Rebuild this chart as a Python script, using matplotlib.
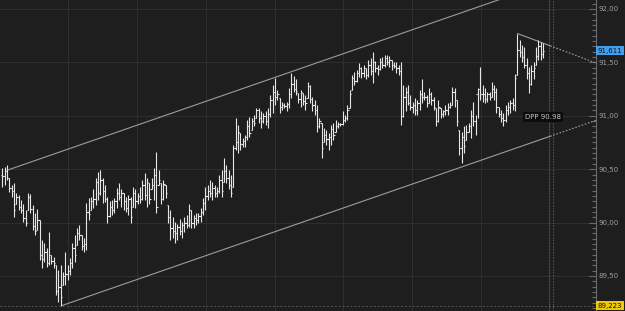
import numpy as np
import matplotlib.pyplot as plt
from matplotlib.ticker import MultipleLocator, FuncFormatter
from matplotlib.transforms import blended_transform_factory

# bar data (one bar per session)
highs = [
    90.51, 90.52, 90.54, 90.42, 90.35, 90.37, 90.28, 90.26, 90.21, 90.17,
    90.12, 90.28, 90.27, 90.16, 90.09, 90.13, 90.02, 89.84, 89.81, 89.76,
    89.91, 89.70, 89.68, 89.60, 89.56, 89.60, 89.54, 89.72, 89.60, 89.67,
    89.81, 89.88, 89.95, 89.98, 89.88, 89.86, 90.18, 90.23, 90.24, 90.31,
    90.42, 90.47, 90.49, 90.42, 90.35, 90.24, 90.20, 90.21, 90.23, 90.32,
    90.37, 90.31, 90.28, 90.24, 90.26, 90.24, 90.33, 90.31, 90.28, 90.33,
    90.40, 90.46, 90.42, 90.37, 90.42, 90.51, 90.66, 90.49, 90.37, 90.40,
    90.35, 90.16, 90.12, 90.05, 90.01, 89.99, 90.03, 90.01, 90.05, 90.07,
    90.17, 90.12, 90.07, 90.09, 90.09, 90.14, 90.23, 90.33, 90.35, 90.40,
    90.38, 90.35, 90.33, 90.45, 90.49, 90.60, 90.54, 90.49, 90.45, 90.73,
    90.98, 90.91, 90.84, 90.79, 90.82, 90.96, 90.99, 90.98, 91.01, 91.07,
    91.07, 91.04, 91.03, 91.04, 91.07, 91.19, 91.29, 91.35, 91.24, 91.17,
    91.13, 91.12, 91.13, 91.26, 91.40, 91.37, 91.34, 91.21, 91.24, 91.21,
    91.19, 91.32, 91.29, 91.18, 91.15, 91.10, 90.98, 90.93, 90.89, 90.87,
    90.84, 90.91, 90.93, 90.96, 90.94, 90.93, 91.04, 91.01, 91.10, 91.24,
    91.38, 91.41, 91.43, 91.49, 91.46, 91.48, 91.45, 91.52, 91.54, 91.60,
    91.51, 91.48, 91.54, 91.55, 91.57, 91.57, 91.56, 91.52, 91.50, 91.50,
    91.48, 91.50, 91.29, 91.27, 91.29, 91.19, 91.13, 91.17, 91.15, 91.24,
    91.34, 91.22, 91.19, 91.26, 91.22, 91.18, 91.07, 91.15, 91.07, 91.05,
    91.10, 91.12, 91.13, 91.27, 91.26, 91.15, 90.87, 90.85, 90.90, 90.91,
    90.93, 91.05, 91.13, 91.01, 91.26, 91.46, 91.29, 91.26, 91.22, 91.22,
    91.32, 91.29, 91.26, 91.08, 91.05, 91.03, 91.10, 91.13, 91.15, 91.17,
    91.39, 91.77, 91.71, 91.66, 91.64, 91.54, 91.46, 91.48, 91.50, 91.64,
    91.71, 91.69, 91.68,
]
lows = [
    90.33, 90.35, 90.40, 90.29, 90.24, 90.05, 90.17, 90.12, 90.09, 90.01,
    89.97, 90.12, 90.09, 89.93, 89.88, 89.93, 89.65, 89.57, 89.63, 89.58,
    89.60, 89.61, 89.57, 89.32, 89.26, 89.223, 89.42, 89.42, 89.46, 89.51,
    89.57, 89.63, 89.79, 89.84, 89.74, 89.72, 89.74, 90.02, 90.12, 90.14,
    90.16, 90.21, 90.26, 90.18, 90.19, 90.00, 90.05, 90.07, 90.09, 90.14,
    90.21, 90.15, 90.12, 90.10, 90.07, 90.00, 90.15, 90.14, 90.17, 90.18,
    90.21, 90.21, 90.15, 90.17, 90.31, 90.21, 90.09, 90.35, 90.17, 90.21,
    90.23, 90.00, 89.84, 89.86, 89.81, 89.84, 89.88, 89.86, 89.91, 89.95,
    89.96, 89.95, 89.95, 89.98, 90.00, 90.01, 90.07, 90.12, 90.21, 90.24,
    90.21, 90.24, 90.24, 90.28, 90.24, 90.38, 90.37, 90.31, 90.24, 90.33,
    90.68, 90.65, 90.68, 90.71, 90.71, 90.77, 90.80, 90.87, 90.90, 90.98,
    90.93, 90.89, 90.93, 90.91, 90.89, 90.99, 91.03, 91.10, 91.15, 91.03,
    91.05, 91.07, 91.04, 91.07, 91.17, 91.22, 91.19, 91.12, 91.08, 91.10,
    91.05, 91.17, 91.12, 91.04, 91.01, 90.85, 90.89, 90.60, 90.75, 90.73,
    90.68, 90.73, 90.77, 90.85, 90.89, 90.90, 90.91, 90.94, 90.96, 91.07,
    91.24, 91.29, 91.32, 91.36, 91.35, 91.36, 91.34, 91.36, 91.38, 91.31,
    91.41, 91.38, 91.43, 91.45, 91.46, 91.48, 91.46, 91.43, 91.45, 91.40,
    91.38, 90.91, 90.99, 91.04, 91.10, 91.05, 91.03, 91.01, 91.01, 91.05,
    91.12, 91.15, 91.08, 91.12, 91.10, 91.05, 90.90, 90.94, 90.98, 90.99,
    91.01, 91.01, 91.07, 91.10, 91.08, 90.90, 90.63, 90.56, 90.65, 90.77,
    90.85, 90.79, 90.90, 90.82, 90.98, 91.15, 91.13, 91.12, 91.13, 91.15,
    91.18, 91.15, 91.03, 90.99, 90.94, 90.90, 90.94, 91.01, 91.03, 91.05,
    91.04, 91.38, 91.55, 91.50, 91.45, 91.34, 91.21, 91.29, 91.34, 91.48,
    91.52, 91.52, 91.54,
]
closes = [
    90.44, 90.48, 90.42, 90.32, 90.30, 90.12, 90.24, 90.15, 90.12, 90.04,
    90.00, 90.24, 90.13, 89.97, 89.92, 90.02, 89.70, 89.66, 89.72, 89.62,
    89.70, 89.64, 89.62, 89.36, 89.40, 89.30, 89.50, 89.52, 89.55, 89.62,
    89.76, 89.70, 89.90, 89.88, 89.78, 89.80, 90.10, 90.08, 90.20, 90.22,
    90.38, 90.28, 90.40, 90.30, 90.22, 90.06, 90.15, 90.12, 90.20, 90.28,
    90.24, 90.28, 90.20, 90.14, 90.22, 90.05, 90.28, 90.20, 90.25, 90.22,
    90.35, 90.26, 90.38, 90.22, 90.35, 90.45, 90.15, 90.40, 90.22, 90.36,
    90.28, 90.05, 89.95, 89.92, 89.90, 89.96, 89.92, 89.98, 90.00, 89.98,
    90.12, 90.00, 90.04, 90.02, 90.06, 90.10, 90.18, 90.25, 90.30, 90.28,
    90.32, 90.28, 90.30, 90.40, 90.30, 90.48, 90.42, 90.35, 90.28, 90.70,
    90.75, 90.85, 90.74, 90.76, 90.80, 90.90, 90.84, 90.95, 90.93, 91.05,
    90.98, 90.95, 91.00, 90.95, 91.02, 91.15, 91.22, 91.18, 91.20, 91.08,
    91.10, 91.09, 91.11, 91.20, 91.30, 91.25, 91.23, 91.16, 91.22, 91.14,
    91.12, 91.28, 91.16, 91.10, 91.05, 90.90, 90.95, 90.70, 90.82, 90.78,
    90.80, 90.88, 90.82, 90.90, 90.92, 90.92, 90.96, 90.98, 91.05, 91.20,
    91.35, 91.33, 91.40, 91.45, 91.40, 91.45, 91.38, 91.48, 91.42, 91.50,
    91.45, 91.44, 91.50, 91.48, 91.54, 91.50, 91.52, 91.48, 91.47, 91.45,
    91.42, 91.00, 91.18, 91.22, 91.12, 91.08, 91.10, 91.05, 91.12, 91.20,
    91.18, 91.18, 91.12, 91.20, 91.15, 91.08, 90.95, 91.08, 91.02, 91.04,
    91.05, 91.08, 91.10, 91.22, 91.15, 90.95, 90.70, 90.80, 90.72, 90.85,
    90.90, 91.00, 90.95, 91.20, 91.25, 91.20, 91.20, 91.16, 91.20, 91.18,
    91.25, 91.22, 91.08, 91.02, 90.98, 90.96, 91.05, 91.08, 91.12, 91.10,
    91.35, 91.62, 91.60, 91.55, 91.48, 91.40, 91.30, 91.42, 91.45, 91.56,
    91.65, 91.58, 91.611,
]
first_open = 90.45

last_price = 91.611
low_price = 89.223
dpp_value = 90.98

# trend line anchors: (bar index, price)
top_line = [(2, 90.49), (117, 91.36)]
low_anchor = (25.5, 89.223)          # lower channel, parallel to top line
peak_line = [(221, 91.77), (232, 91.68)]

bg = '#1e1e1e'
grid_c = '#2e2e2e'
bar_c = '#e6e6e6'
line_c = '#9c9c9c'
label_c = '#a0a0a0'

highs = np.array(highs)
lows = np.array(lows)
closes = np.array(closes)
n = len(closes)
idx = np.arange(n)
opens = np.clip(np.r_[first_open, closes[:-1]], lows, highs)

fig = plt.figure(figsize=(6.25, 3.11), dpi=100, facecolor=bg)
ax = fig.add_axes([0, 0, 596 / 625, 1])
ax.set_facecolor(bg)
x_end = 254.7
ax.set_xlim(-1.07, x_end)
ax.set_ylim(89.172, 92.084)

# grid
for gx in np.arange(28.3, 240, 29.48):
    ax.axvline(gx, color=grid_c, lw=0.8, zorder=0)
for gy in np.arange(89.5, 92.01, 0.5):
    ax.axhline(gy, color=grid_c, lw=0.8, zorder=0)

# future area markers
ax.axvline(234.6, color='#5a5a5a', lw=0.7, ls=(0, (1.5, 1.5)), zorder=1)
ax.axvline(236.3, color='#5a5a5a', lw=0.7, ls=(0, (1.5, 1.5)), zorder=1)
ax.axhline(low_price, color='#555555', lw=0.7, ls=(0, (2, 2)), zorder=1)

# OHLC bars
ax.vlines(idx, lows, highs, color=bar_c, lw=0.8, zorder=3)
ax.hlines(opens, idx - 0.55, idx, color=bar_c, lw=0.8, zorder=3)
ax.hlines(closes, idx, idx + 0.55, color=bar_c, lw=0.8, zorder=3)

# channel lines
(x0, y0), (x1, y1) = top_line
slope = (y1 - y0) / (x1 - x0)
xs = np.array([x0, x_end])
ax.plot(xs, y0 + slope * (xs - x0), color=line_c, lw=0.8, zorder=2)

lx, ly = low_anchor
split = 235
xs = np.array([lx, split])
ax.plot(xs, ly + slope * (xs - lx), color=line_c, lw=0.8, zorder=2)
xs = np.array([split, x_end])
ax.plot(xs, ly + slope * (xs - lx), color=line_c, lw=0.8, ls=(0, (1.5, 1.5)), zorder=2)

(px0, py0), (px1, py1) = peak_line
pslope = (py1 - py0) / (px1 - px0)
xs = np.array([px0, split])
ax.plot(xs, py0 + pslope * (xs - px0), color=line_c, lw=0.8, zorder=2)
xs = np.array([split, x_end])
ax.plot(xs, py0 + pslope * (xs - px0), color=line_c, lw=0.8, ls=(0, (1.5, 1.5)), zorder=2)

# DPP label
ax.text(232, dpp_value + 0.01, 'DPP %.2f' % dpp_value, fontsize=5, color='#c8c8c8',
        ha='center', va='center', zorder=5,
        bbox=dict(boxstyle='square,pad=0.25', fc='#0c0c0c', ec='none'))

# right price axis
for s in ['left', 'top', 'bottom']:
    ax.spines[s].set_visible(False)
ax.spines['right'].set_color('#6a6a6a')
ax.spines['right'].set_linewidth(0.8)
ax.set_xticks([])
ax.yaxis.tick_right()
ax.yaxis.set_major_locator(MultipleLocator(0.5))
ax.yaxis.set_minor_locator(MultipleLocator(0.05))
ax.yaxis.set_major_formatter(FuncFormatter(lambda v, p: ('%.2f' % v).replace('.', ',')))
ax.tick_params(axis='y', which='major', direction='in', length=5, width=0.8,
               color='#6a6a6a', labelcolor=label_c, labelsize=5, pad=1.5)
ax.tick_params(axis='y', which='minor', direction='in', length=3, width=0.8, color='#6a6a6a')

tr = blended_transform_factory(ax.transAxes, ax.transData)
ax.text(1.003, last_price, ('%.3f' % last_price).replace('.', ','), transform=tr,
        fontsize=5, color='#101010', ha='left', va='center', clip_on=False,
        bbox=dict(boxstyle='square,pad=0.2', fc='#3fa0f0', ec='none'))
ax.text(1.003, low_price, ('%.3f' % low_price).replace('.', ','), transform=tr,
        fontsize=5, color='#101010', ha='left', va='center', clip_on=False,
        bbox=dict(boxstyle='square,pad=0.2', fc='#f2c800', ec='none'))

fig.savefig('out.png', dpi=100, facecolor=bg)
